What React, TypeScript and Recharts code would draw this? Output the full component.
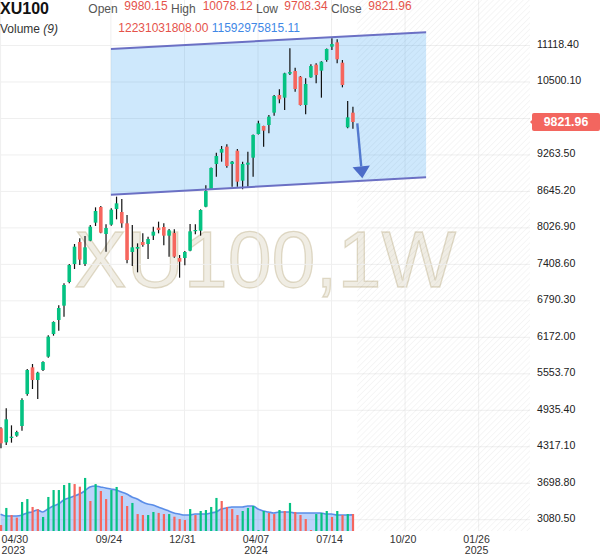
import React from 'react';
import { ComposedChart, Bar, Area, XAxis, YAxis, CartesianGrid, ReferenceLine, ReferenceArea } from 'recharts';

const opens = [4629.4, 4392, 4465.5, 4505, 4668.9, 5211.3, 5663.3, 5448.6, 5618.1, 5844.1, 6228.3, 6465.6, 6708.6, 7109.7, 7414.8, 7787.7, 7414.8, 7810.3, 8115.4, 8381, 7923.3, 8081.5, 8347.1, 8296.2, 8104.1, 7618.2, 7674.7, 7787.7, 7753.8, 7895.1, 8030.7, 8042, 7895.1, 7940.3, 7516.5, 7516.5, 7640.8, 7979.8, 7979.8, 8386, 8686.1, 9109.8, 9301.9, 9403.6, 9109.8, 9335.8, 8827.3, 9098.5, 9217.2, 9618.3, 9753.9, 9770.9, 9979.9, 10279.4, 10234.2, 10641, 10686.2, 10590.1, 10109.9, 10578.8, 10793.5, 10691.8, 10872.6, 11098.6, 11172, 10827.4, 9731.3, 9980.15];
const highs = [4646, 4968.4, 4680.2, 4589.8, 5137.9, 5635.1, 5719.8, 5589.9, 5765, 6205.7, 6443, 6714.2, 7087.1, 7414.8, 7753.8, 7849.9, 7889.4, 8075.9, 8375.3, 8397.9, 8087.2, 8358.4, 8556.1, 8516.6, 8245.4, 8075.9, 7765.1, 7934.6, 7878.1, 8047.6, 8132.4, 8104.1, 8008, 8002.4, 7567.4, 7635.2, 8092.8, 8087.2, 8341.4, 8748.8, 9050, 9301.9, 9414.9, 9443.1, 9160, 9364, 9149.3, 9318.8, 9610, 9844.3, 9760, 9940.4, 10279.4, 10375.4, 10655, 11070.4, 10742.7, 10600, 10561.9, 10799.2, 10816.1, 10852, 11066, 11239.9, 11222.9, 10872.6, 10177.7, 10078.12];
const lows = [4290.4, 4346.9, 4386.4, 4488, 4589.8, 5183.1, 5296.1, 5126.6, 5601.2, 5827, 6200, 6284.8, 6522.1, 7087.1, 7330.1, 7397.9, 7380.9, 7799, 8058.9, 7934.6, 7623.9, 8064.6, 8171.9, 8030.7, 7426.1, 7380.9, 7273.6, 7708.6, 7499.6, 7821.6, 7934.6, 7731.2, 7539.1, 7522.2, 7183.2, 7392.2, 7629.5, 7917.7, 7895.1, 8375.9, 8680, 8895.1, 9149.3, 9047.6, 8725.6, 8725.6, 8680.4, 8725.6, 8895.1, 9610, 9403.6, 9629.6, 9929.1, 10138.1, 10025.1, 10618.4, 10335.9, 10100, 9951.7, 10570, 10477.1, 10234.2, 10844.4, 11042.1, 10816.1, 10409.3, 9714.4, 9708.34];
const closes = [4375.1, 4781.9, 4488, 4567.2, 5109.6, 5618.1, 5448.6, 5572.9, 5753.7, 6183.1, 6431.7, 6669, 7058.9, 7397.9, 7708.6, 7488.3, 7697.3, 8047.6, 8313.2, 7945.9, 8025, 8335.8, 8443.1, 8104.1, 7482.6, 7697.3, 7703, 7736.9, 7838.6, 7962.9, 7991.1, 7895.1, 7985.5, 7539.1, 7454.4, 7618.2, 7968.5, 7991.1, 8330.1, 8652.2, 9042, 9245.4, 9364, 9075.9, 9149.3, 8810.3, 9109.8, 9132.4, 9601.4, 9799.1, 9674.8, 9912.1, 10262.4, 10205.9, 10646.6, 10669.2, 10381.1, 10109.9, 10465.8, 10770.9, 10618.4, 10844.4, 11059, 11143.8, 10883.9, 10448.9, 9900.8, 9821.96];
// volume in billions
const volumes = [4.3, 16.6, 11.5, 9.6, 20.9, 23.0, 17.3, 15.8, 10.1, 24.5, 29.5, 29.5, 33.1, 34.6, 33.8, 31.9, 38.2, 21.6, 33.8, 28.8, 23.0, 29.5, 31.7, 25.2, 18.0, 20.2, 12.2, 11.5, 11.5, 13.7, 13.0, 12.2, 12.2, 10.3, 8.6, 7.9, 15.8, 11.5, 14.4, 15.1, 17.3, 23.8, 21.6, 17.3, 15.8, 11.5, 14.4, 16.6, 18.0, 0.7, 14.4, 13.0, 12.2, 15.1, 14.4, 20.2, 13.7, 11.5, 8.6, 0.7, 12.2, 13.0, 14.4, 10.1, 14.4, 11.5, 12.2, 12.23];
const volumeMA = [12.0, 10.8, 10.8, 10.8, 11.3, 13.0, 13.7, 15.1, 13.7, 15.8, 18.0, 19.4, 22.3, 23.8, 25.2, 26.6, 28.8, 31.7, 32.4, 31.7, 31.0, 30.2, 29.5, 28.1, 26.6, 24.5, 23.0, 20.9, 19.4, 18.7, 17.3, 15.8, 14.4, 13.0, 12.2, 11.5, 11.5, 12.2, 12.2, 12.2, 13.0, 13.7, 15.8, 16.6, 17.3, 17.3, 17.3, 18.0, 18.0, 15.8, 14.4, 13.7, 13.0, 13.7, 13.7, 13.7, 13.0, 13.0, 13.0, 13.0, 13.0, 13.0, 12.2, 12.2, 11.5, 11.5, 11.5, 11.59];
const volumeUp = [0, 1, 0, 0, 1, 1, 0, 0, 1, 1, 1, 1, 1, 1, 0, 0, 1, 0, 1, 0, 0, 1, 1, 0, 0, 1, 0, 0, 1, 1, 0, 0, 1, 0, 0, 0, 1, 0, 1, 1, 1, 1, 0, 0, 0, 0, 1, 1, 1, 1, 1, 0, 0, 1, 0, 1, 0, 0, 0, 0, 1, 1, 1, 0, 1, 0, 1, 0];

const lastVolumeText = '12231031808.00';
const lastVolumeMAText = '11592975815.11';

const xTickIdx = [0, 21, 35, 49, 63, 77, 91];
const xTickLabels = ['04/30', '09/24', '12/31', '04/07', '07/14', '10/20', '01/26'];
const xTickYears = ['2023', '', '', '2024', '', '', '2025'];
const yTicks = [3080.5, 3698.8, 4317.1, 4935.4, 5553.7, 6172.0, 6790.3, 7408.6, 8026.9, 8645.2, 9263.5, 9881.8, 10500.1, 11118.4];

const channelX = [21, 81];
const channelUpper = [11060, 11345];
const channelLower = [8590, 8885];
const arrowX = [67.9, 68.86];
const arrowY = [9800, 8867];
const futureStart = 67.9;

const X0 = -0.114;
const X1 = 100.78;
const Y0 = 2889.2;
const Y1 = 11889.6;

const GREEN = '#05c282';
const RED = '#f6665e';
const FONT = "'Liberation Sans', Arial, sans-serif";

const last = opens.length - 1;
const lastClose = closes[last];
// the last-price tag is drawn as the final tick of the price axis, so it sits on top of the other labels
const axisTicks = [...yTicks, lastClose];

const data = opens.map((o, i) => ({
  i,
  open: o,
  high: highs[i],
  low: lows[i],
  close: closes[i],
  vol: volumes[i],
  volMa: volumeMA[i],
  volUp: volumeUp[i] === 1,
}));

const channelData = channelX.map((x, k) => ({ i: x, band: [channelLower[k], channelUpper[k]] }));

const Candle = (props: any) => {
  const { x, y, width, height, payload } = props;
  const { open, close, high, low } = payload;
  const top = Math.min(y, y + height);
  const h = Math.abs(height);
  const k = high === low ? 0 : h / (high - low);
  const py = (p: number) => top + (high - p) * k;
  const cx = x + width / 2;
  const up = close >= open;
  const bt = py(Math.max(open, close));
  const bb = py(Math.min(open, close));
  return (
    <g>
      <line x1={cx} x2={cx} y1={top} y2={top + h} stroke="#111" strokeWidth={1.2} />
      <rect x={cx - 1.8} width={3.6} y={bt} height={Math.max(1.2, bb - bt)} fill={up ? GREEN : RED} />
    </g>
  );
};

const VolBar = (props: any) => {
  const { x, y, width, height, payload } = props;
  const top = Math.min(y, y + height);
  return <rect x={x + width / 2 - 1.1} y={top} width={2.2} height={Math.abs(height)} fill={payload.volUp ? GREEN : RED} />;
};

const XTick = (props: any) => {
  const { x, y, payload } = props;
  const k = xTickIdx.indexOf(payload.value);
  if (k < 0) return null;
  const first = k === 0;
  const tx = first ? x + 1 : x - 2;
  const anchor = first ? 'start' : 'middle';
  return (
    <g>
      <text x={tx} y={y + 12.3} textAnchor={anchor} fontSize={10.6} fill="#333" fontFamily={FONT}>{xTickLabels[k]}</text>
      {xTickYears[k] ? (
        <text x={tx} y={y + 22.5} textAnchor={anchor} fontSize={10.6} fill="#333" fontFamily={FONT}>{xTickYears[k]}</text>
      ) : null}
    </g>
  );
};

const YTick = (props: any) => {
  const { x, y, payload, index } = props;
  const v = Number(payload.value);
  if (index === axisTicks.length - 1 || (v === lastClose && index >= yTicks.length)) {
    const left = x - 7;
    const cy = y;
    return (
      <g>
        <polygon points={`${left},${cy} ${left + 3.5},${cy - 3.5} ${left + 3.5},${cy + 3.5}`} fill="#f3665f" />
        <rect x={left + 2} y={cy - 9} width={68} height={18} rx={2} fill="#f3665f" />
        <text x={left + 36} y={cy + 4.4} textAnchor="middle" fontSize={12.3} fontWeight="bold" fill="#fff" fontFamily={FONT}>
          {v.toFixed(2)}
        </text>
      </g>
    );
  }
  return (
    <text x={x} y={y + 2.3} textAnchor="start" fontSize={10.6} fill="#222" fontFamily={FONT}>
      {v.toFixed(2)}
    </text>
  );
};

const Hatch = (props: any) => {
  const { x, y, width, height } = props;
  return (
    <g>
      <defs>
        <pattern id="hatchPat" patternUnits="userSpaceOnUse" width={4.2} height={4.2} patternTransform="rotate(45)">
          <line x1={0} y1={0} x2={0} y2={4.2} stroke="rgba(0,0,0,0.07)" strokeWidth={1} />
        </pattern>
      </defs>
      <rect x={x} y={y} width={width} height={height} fill="url(#hatchPat)" />
    </g>
  );
};

const ArrowShape = (props: any) => {
  const { x1, y1, x2, y2 } = props;
  const dx = x2 - x1;
  const dy = y2 - y1;
  const len = Math.sqrt(dx * dx + dy * dy) || 1;
  const ux = dx / len;
  const uy = dy / len;
  const bx = x2 - ux * 12;
  const by = y2 - uy * 12;
  const px = -uy;
  const py = ux;
  return (
    <g>
      <line x1={x1} y1={y1} x2={bx} y2={by} stroke="#5379cf" strokeWidth={2.4} />
      <polygon points={`${x2},${y2} ${bx + px * 8.7},${by + py * 8.7} ${bx - px * 8.7},${by - py * 8.7}`} fill="#4c6cc8" />
    </g>
  );
};

const valColor = closes[last] >= opens[last] ? GREEN : '#e5534b';

export default function App() {
  return (
    <div style={{ position: 'absolute', left: 0, top: 0, width: 600, height: 558, background: '#fff', fontFamily: FONT }}>
      <svg width={600} height={558} style={{ position: 'absolute', left: 0, top: 0 }}>
        <text x={265} y={287} textAnchor="middle" fontSize={79} fontFamily={FONT}
          fill="rgba(200,190,158,0.28)" stroke="rgba(185,170,128,0.4)" strokeWidth={1.3}>XU100,1W</text>
      </svg>
      <div style={{ position: 'absolute', left: 0, top: 0 }}>
        <ComposedChart width={600} height={558} data={data} margin={{ top: 0, right: 0, bottom: 0, left: 0 }}>
          <CartesianGrid xAxisId="px" yAxisId="price" stroke="#efefef" strokeWidth={1}
            horizontalValues={yTicks} verticalValues={xTickIdx} />
          <XAxis xAxisId="px" dataKey="i" type="number" domain={[X0, X1]} ticks={xTickIdx} interval={0}
            allowDataOverflow height={27} tickSize={0} tickMargin={0} axisLine={false} tickLine={false} tick={<XTick />} />
          <XAxis xAxisId="vx" dataKey="i" type="number" domain={[X0, X1]} allowDataOverflow hide />
          <YAxis yAxisId="price" orientation="right" type="number" domain={[Y0, Y1]} ticks={axisTicks} interval={0}
            allowDataOverflow width={70} tickSize={0} tickMargin={7} axisLine={false} tickLine={false} tick={<YTick />} />
          <YAxis yAxisId="vol" type="number" domain={[0, 382.3]} allowDataOverflow hide />
          <ReferenceArea xAxisId="px" yAxisId="price" x1={futureStart} x2={X1} y1={Y0} y2={Y1}
            ifOverflow="visible" shape={<Hatch />} />
          <Bar xAxisId="vx" yAxisId="vol" dataKey="vol" barSize={2.2} shape={<VolBar />} isAnimationActive={false} />
          <Area xAxisId="vx" yAxisId="vol" dataKey="volMa" type="monotone" fill="#4285f4" fillOpacity={0.36}
            stroke="#5a8de8" strokeWidth={1.6} dot={false} activeDot={false} isAnimationActive={false} />
          <Bar xAxisId="px" yAxisId="price" dataKey={(d: any) => [d.low, d.high]} barSize={4} shape={<Candle />} isAnimationActive={false} />
          <Area xAxisId="px" yAxisId="price" data={channelData} dataKey="band" type="linear"
            fill="rgb(33,150,243)" fillOpacity={0.22} stroke="none" dot={false} activeDot={false} isAnimationActive={false} />
          <ReferenceLine xAxisId="px" yAxisId="price" ifOverflow="visible" stroke="#6b70c4" strokeWidth={2}
            segment={[{ x: channelX[0], y: channelUpper[0] }, { x: channelX[1], y: channelUpper[1] }]} />
          <ReferenceLine xAxisId="px" yAxisId="price" ifOverflow="visible" stroke="#6b70c4" strokeWidth={2}
            segment={[{ x: channelX[0], y: channelLower[0] }, { x: channelX[1], y: channelLower[1] }]} />
          <ReferenceLine xAxisId="px" yAxisId="price" ifOverflow="visible"
            segment={[{ x: arrowX[0], y: arrowY[0] }, { x: arrowX[1], y: arrowY[1] }]} shape={ArrowShape} />
        </ComposedChart>
      </div>
      <svg width={600} height={40} style={{ position: 'absolute', left: 0, top: 0, pointerEvents: 'none' }} fontFamily={FONT}>
        <text x={0} y={13.5} fontSize={16} fontWeight="bold" fill="#111">XU100</text>
        <text x={88.3} y={12.5} fontSize={12} fill="#555">Open</text>
        <text x={124.3} y={10.2} fontSize={12} fill={valColor}>{opens[last].toFixed(2)}</text>
        <text x={171} y={12.5} fontSize={12} fill="#555">High</text>
        <text x={202.7} y={10.2} fontSize={12} fill={valColor}>{highs[last].toFixed(2)}</text>
        <text x={256} y={12.5} fontSize={12} fill="#555">Low</text>
        <text x={284.3} y={10.2} fontSize={12} fill={valColor}>{lows[last].toFixed(2)}</text>
        <text x={331} y={12.5} fontSize={12} fill="#555">Close</text>
        <text x={368.3} y={10.2} fontSize={12} fill={valColor}>{closes[last].toFixed(2)}</text>
        <text x={0} y={33.3} fontSize={12} fill="#333">Volume <tspan fontStyle="italic">(9)</tspan></text>
        <text x={118.3} y={31.7} fontSize={12} fill="#e5534b">{lastVolumeText}</text>
        <text x={211.7} y={31.7} fontSize={12} fill="#3f88e6">{lastVolumeMAText}</text>
      </svg>
    </div>
  );
}
